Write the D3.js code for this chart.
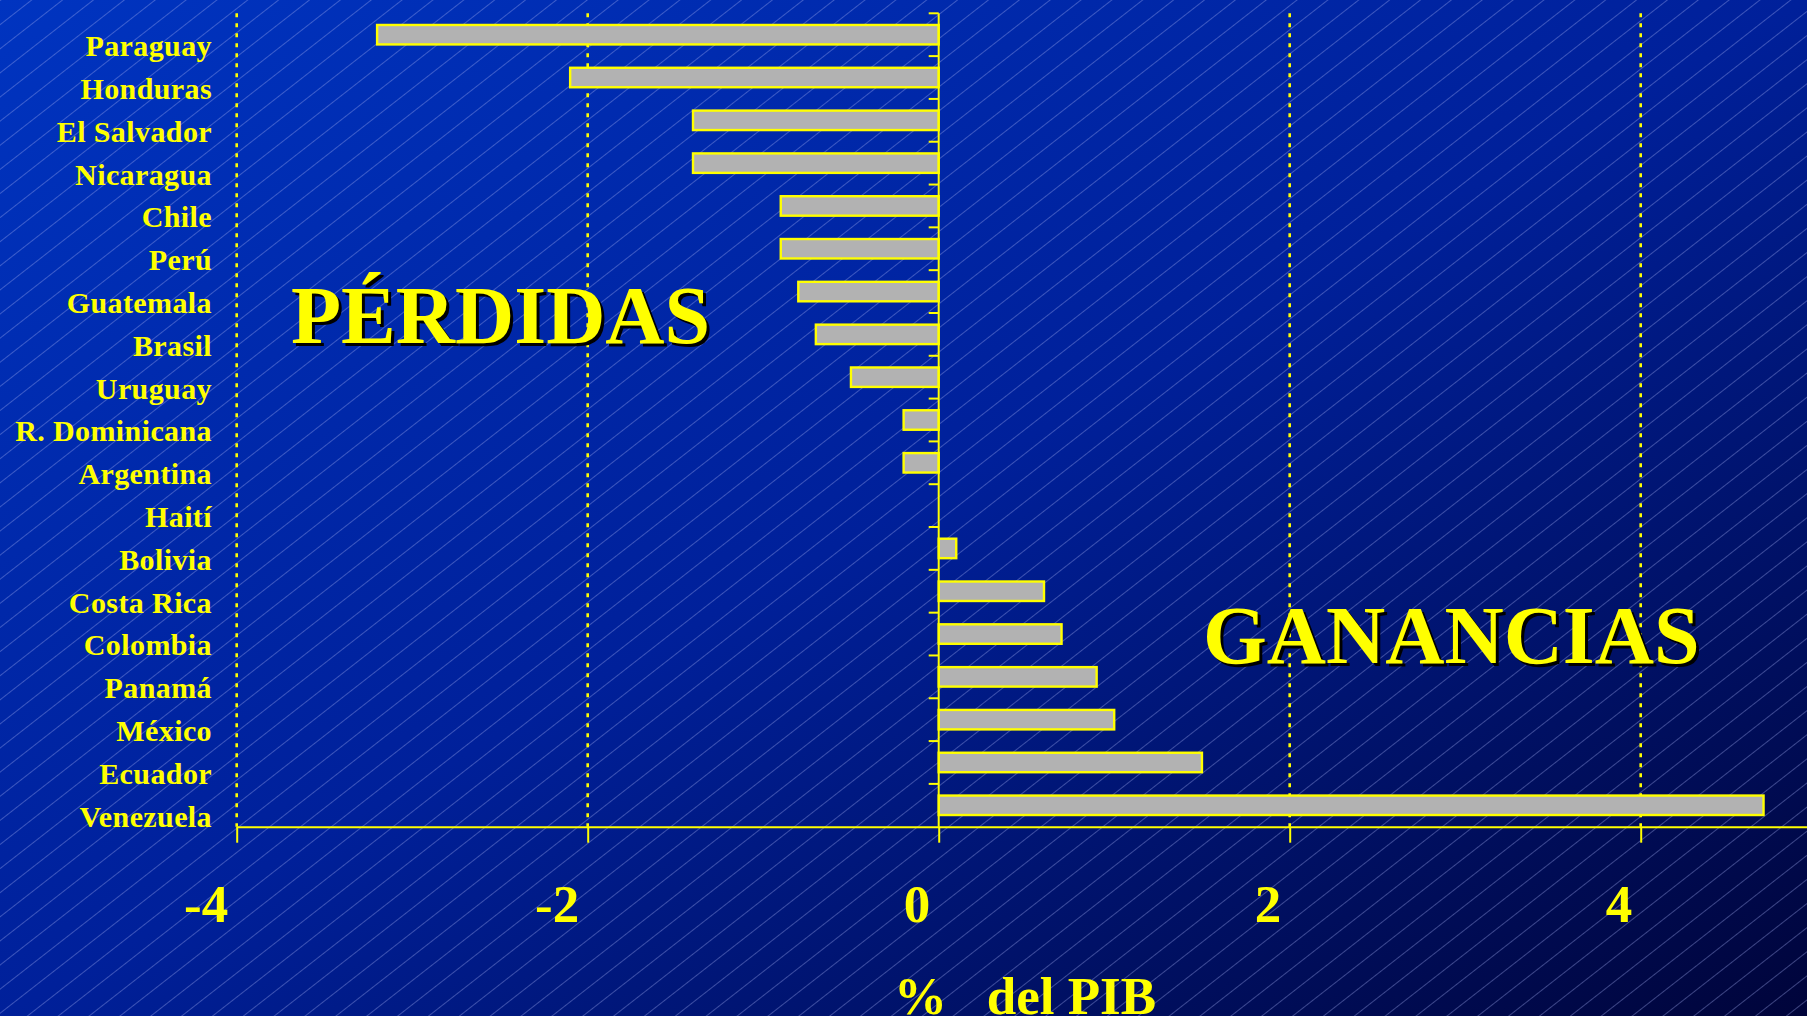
<!DOCTYPE html>
<html lang="es">
<head>
<meta charset="utf-8">
<title>Pérdidas y ganancias, % del PIB</title>
<script src="https://cdn.jsdelivr.net/npm/d3@7"></script>
<style>
    html, body { margin: 0; padding: 0; overflow: hidden; background: #001a80; }
    svg { display: block; }
    .serif { font-family: "Liberation Serif", "Times New Roman", "DejaVu Serif", serif; font-weight: bold; }
</style>
</head>
<body>
<svg id="chart"></svg>
<script>
// Values (% del PIB)
const countries = [
    "Paraguay", "Honduras", "El Salvador", "Nicaragua", "Chile", "Perú",
    "Guatemala", "Brasil", "Uruguay", "R. Dominicana", "Argentina", "Haití",
    "Bolivia", "Costa Rica", "Colombia", "Panamá", "México", "Ecuador", "Venezuela"
];
const values = [
    -3.2, -2.1, -1.4, -1.4, -0.9, -0.9,
    -0.8, -0.7, -0.5, -0.2, -0.2, 0,
    0.1, 0.6, 0.7, 0.9, 1.0, 1.5, 4.7
];
const xTicks = [-4, -2, 0, 2, 4];
const gridTicks = [-4, -2, 2, 4];
const xDomain = [-4, 5];

const width = 1807;
const height = 1016;
const yellow = "#ffff00";

const svg = d3.select("#chart").attr("width", width).attr("height", height);
const defs = svg.append("defs");

// Background: diagonal blue gradient with fine hatch lines
const grad = defs.append("linearGradient")
    .attr("id", "bg")
    .attr("x1", 0).attr("y1", 0).attr("x2", 1).attr("y2", 1);
grad.append("stop").attr("offset", 0).attr("stop-color", "#0034c0");
grad.append("stop").attr("offset", 0.5).attr("stop-color", "#00209a");
grad.append("stop").attr("offset", 1).attr("stop-color", "#00043a");

const hatch = defs.append("pattern")
    .attr("id", "hatch")
    .attr("patternUnits", "userSpaceOnUse")
    .attr("width", 12).attr("height", 19)
    .attr("patternTransform", "rotate(-38)");
hatch.append("line")
    .attr("x1", 0).attr("y1", 0.5).attr("x2", 12).attr("y2", 0.5)
    .attr("stroke", "#a0acf0")
    .attr("stroke-opacity", 0.38)
    .attr("stroke-width", 1);

svg.append("rect").attr("width", width).attr("height", height).attr("fill", "url(#bg)");
svg.append("rect").attr("width", width).attr("height", height).attr("fill", "url(#hatch)");

// Scales
const plotTop = 13.3;
const plotBottom = 826.7;
const x = d3.scaleLinear().domain(xDomain).range([236.7, 1816.2]);
const pad = 0.545;
const y = d3.scaleBand()
    .domain(countries)
    .range([plotTop, plotBottom])
    .paddingInner(pad)
    .paddingOuter(pad / 2);

// Dotted vertical gridlines
svg.append("g")
    .selectAll("line")
    .data(gridTicks)
    .join("line")
    .attr("x1", d => x(d)).attr("x2", d => x(d))
    .attr("y1", plotTop).attr("y2", plotBottom)
    .attr("stroke", yellow)
    .attr("stroke-width", 2.6)
    .attr("stroke-dasharray", "4,6");

// Bars
const data = countries.map((c, i) => ({ country: c, value: values[i] }));
svg.append("g")
    .selectAll("rect")
    .data(data.filter(d => d.value !== 0))
    .join("rect")
    .attr("x", d => x(Math.min(0, d.value)))
    .attr("y", d => y(d.country))
    .attr("width", d => Math.abs(x(d.value) - x(0)))
    .attr("height", y.bandwidth())
    .attr("fill", "#b2b2b2")
    .attr("stroke", yellow)
    .attr("stroke-width", 2.4);

// Vertical axis at zero, ticks on band boundaries
const yAxis = svg.append("g");
yAxis.append("line")
    .attr("x1", x(0)).attr("x2", x(0))
    .attr("y1", plotTop).attr("y2", plotBottom)
    .attr("stroke", yellow).attr("stroke-width", 2);
yAxis.selectAll(".ytick")
    .data(countries)
    .join("line")
    .attr("class", "ytick")
    .attr("x1", x(0) - 10).attr("x2", x(0))
    .attr("y1", (d, i) => plotTop + i * y.step())
    .attr("y2", (d, i) => plotTop + i * y.step())
    .attr("stroke", yellow).attr("stroke-width", 2);

// Category labels sit on the lower edge of each band
svg.append("g")
    .selectAll("text")
    .data(countries)
    .join("text")
    .attr("class", "serif")
    .attr("x", 212)
    .attr("y", (d, i) => plotTop + (i + 1) * y.step())
    .attr("text-anchor", "end")
    .attr("fill", yellow)
    .style("font-size", "30px")
    .style("letter-spacing", "0.4px")
    .text(d => d);

// Horizontal axis
const xAxis = svg.append("g")
    .attr("transform", `translate(0,${plotBottom})`)
    .call(d3.axisBottom(x)
        .tickValues(xTicks)
        .tickSize(16)
        .tickSizeOuter(0)
        .tickFormat(d => String(d)));
xAxis.select(".domain").attr("stroke", yellow).attr("stroke-width", 2);
xAxis.selectAll(".tick line").attr("stroke", yellow).attr("stroke-width", 2);
xAxis.selectAll(".tick text")
    .attr("class", "serif")
    .attr("fill", yellow)
    .attr("text-anchor", "end")
    .attr("x", -9)
    .attr("y", 95)
    .attr("dy", 0)
    .style("font-size", "53px");

svg.append("text")
    .attr("class", "serif")
    .attr("x", 1025)
    .attr("y", 1014)
    .attr("text-anchor", "middle")
    .attr("fill", yellow)
    .attr("xml:space", "preserve")
    .style("white-space", "pre")
    .style("font-size", "53px")
    .text("%   del PIB");

// Big shadowed captions
function shadowText(label, tx, ty) {
    const g = svg.append("g").attr("class", "serif").style("font-size", "82px");
    g.append("text").attr("x", tx + 3).attr("y", ty + 3).attr("fill", "#000").text(label);
    g.append("text").attr("x", tx).attr("y", ty).attr("fill", yellow).text(label);
}
shadowText("PÉRDIDAS", 291, 343);
shadowText("GANANCIAS", 1203, 663);
</script>
</body>
</html>
